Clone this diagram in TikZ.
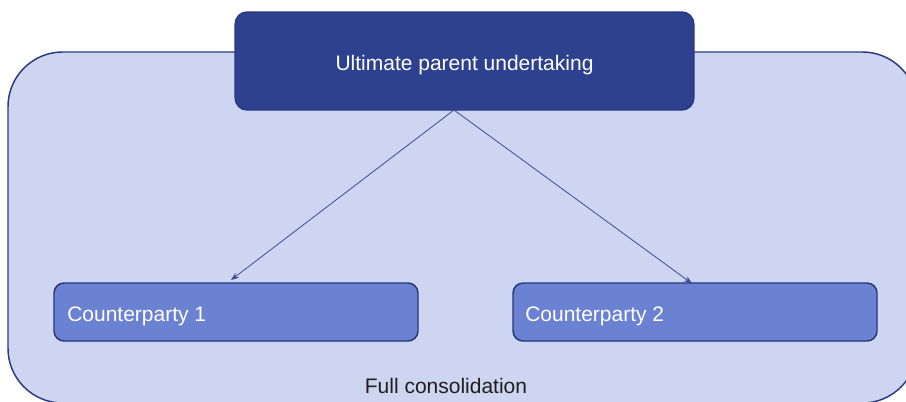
\documentclass[tikz,border=0pt]{standalone}
\usepackage{fontspec}
\setmainfont{Liberation Sans}
\usetikzlibrary{arrows.meta}
\definecolor{outerfill}{HTML}{CDD5F0}
\definecolor{navy}{HTML}{2A3A82}
\definecolor{topfill}{HTML}{2E418F}
\definecolor{cpfill}{HTML}{6B81D1}
\definecolor{cpline}{HTML}{27367A}
\definecolor{arrowc}{HTML}{3A4B9C}
\begin{document}
\begin{tikzpicture}[x=0.75pt,y=-0.75pt,
  outerbox/.style={draw=navy,fill=outerfill,line width=1.1pt,rounded corners=41pt},
  topbox/.style={draw=navy,fill=topfill,line width=1.1pt,rounded corners=9pt,
    minimum width=344pt,minimum height=73.5pt,inner sep=0pt,text=white,
    font=\fontsize{15.75pt}{18pt}\selectfont},
  cpbox/.style={draw=cpline,fill=cpfill,line width=1.1pt,rounded corners=7.5pt,
    minimum width=273pt,minimum height=43.5pt,inner sep=0pt},
  cptext/.style={text=white,font=\fontsize{15.75pt}{18pt}\selectfont,anchor=west,inner sep=0pt},
  conn/.style={draw=arrowc,line width=0.6pt,-{Stealth[length=6pt,width=4.5pt]}},
  caption/.style={text=black!88,font=\fontsize{15.75pt}{18pt}\selectfont,inner sep=0pt}]
\useasboundingbox (0,0) rectangle (906,401);
\clip (0,0) rectangle (906,401);
\fill[white] (0,0) rectangle (906,401);
\draw[outerbox] (8,52) rectangle (917,403);
\node[topbox] (top) at (464.5,61) {};
\node[text=white,font=\fontsize{15.75pt}{18pt}\selectfont,inner sep=0pt] (toptext) at (464.5,65) {Ultimate parent undertaking};
\node[cpbox] (cp1) at (236,312) {};
\node[cpbox] (cp2) at (695,312) {};
\node[cptext] (cp1t) at (67,316) {Counterparty 1};
\node[cptext] (cp2t) at (525,316) {Counterparty 2};
\node[caption] (cap) at (446,386) {Full consolidation};
\coordinate (src) at (454,110);
\coordinate (e1) at (231,280);
\coordinate (e2) at (692,283.5);
\draw[conn] (src) -- (e1);
\draw[conn] (src) -- (e2);
\end{tikzpicture}
\end{document}
